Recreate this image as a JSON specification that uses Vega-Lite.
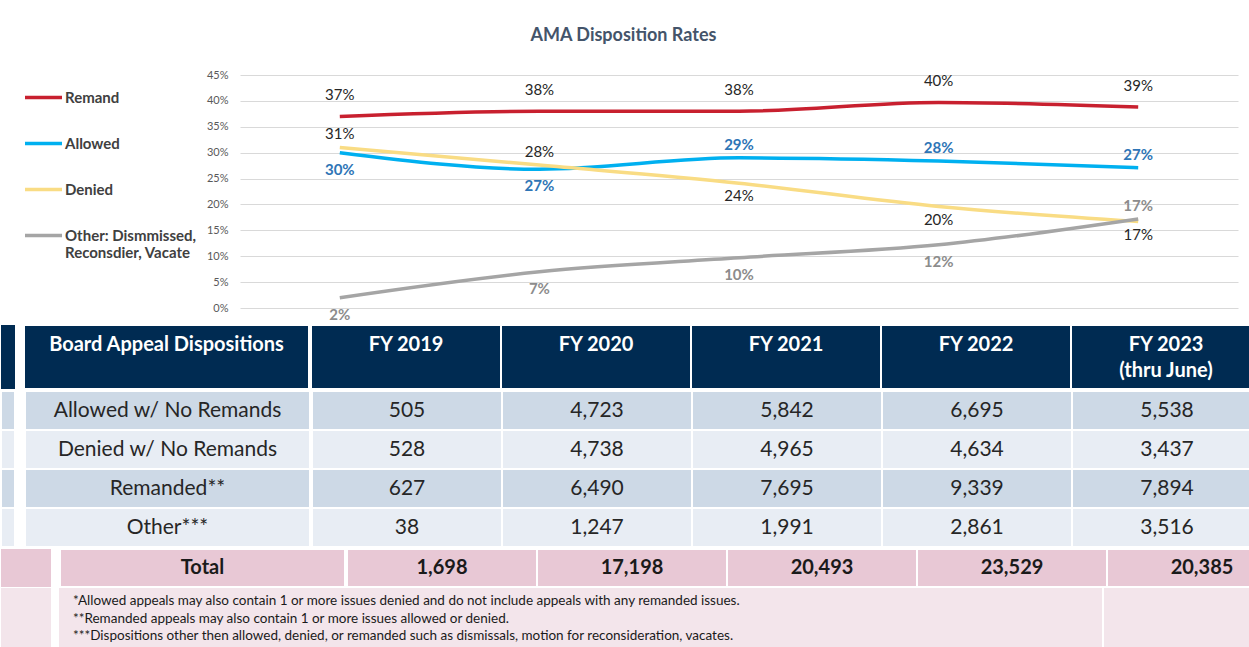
{
  "$schema": "https://vega.github.io/schema/vega-lite/v6.json",
  "background": "white",
  "padding": {"left": 0, "top": 27, "right": 0, "bottom": 0},
  "config": {
    "view": {"stroke": null},
    "font": "Lato",
    "axis": {"labelFont": "Lato"},
    "legend": {"labelFont": "Lato"},
    "title": {"font": "Lato"}
  },
  "resolve": {"scale": {"color": "independent"}, "legend": {"color": "independent"}},
  "datasets": {
    "rates": [
      {"year": "FY 2019", "series": "Remand", "value": 0.37, "lab": "above"},
      {"year": "FY 2020", "series": "Remand", "value": 0.38, "lab": "above"},
      {"year": "FY 2021", "series": "Remand", "value": 0.38, "lab": "above"},
      {"year": "FY 2022", "series": "Remand", "value": 0.397, "lab": "above"},
      {"year": "FY 2023", "series": "Remand", "value": 0.388, "lab": "above"},
      {"year": "FY 2019", "series": "Allowed", "value": 0.30, "lab": "below"},
      {"year": "FY 2020", "series": "Allowed", "value": 0.268, "lab": "below"},
      {"year": "FY 2021", "series": "Allowed", "value": 0.29, "lab": "above"},
      {"year": "FY 2022", "series": "Allowed", "value": 0.284, "lab": "above"},
      {"year": "FY 2023", "series": "Allowed", "value": 0.271, "lab": "above"},
      {"year": "FY 2019", "series": "Denied", "value": 0.31, "lab": "above"},
      {"year": "FY 2020", "series": "Denied", "value": 0.276, "lab": "above"},
      {"year": "FY 2021", "series": "Denied", "value": 0.241, "lab": "below"},
      {"year": "FY 2022", "series": "Denied", "value": 0.196, "lab": "below"},
      {"year": "FY 2023", "series": "Denied", "value": 0.167, "lab": "below"},
      {"year": "FY 2019", "series": "Other: Dismmissed, Reconsdier, Vacate", "value": 0.02, "lab": "below"},
      {"year": "FY 2020", "series": "Other: Dismmissed, Reconsdier, Vacate", "value": 0.07, "lab": "below"},
      {"year": "FY 2021", "series": "Other: Dismmissed, Reconsdier, Vacate", "value": 0.097, "lab": "below"},
      {"year": "FY 2022", "series": "Other: Dismmissed, Reconsdier, Vacate", "value": 0.122, "lab": "below"},
      {"year": "FY 2023", "series": "Other: Dismmissed, Reconsdier, Vacate", "value": 0.172, "lab": "above"}
    ],
    "rows": [
      {"row": "Allowed w/ No Remands"},
      {"row": "Denied w/ No Remands"},
      {"row": "Remanded**"},
      {"row": "Other***"}
    ],
    "counts": [
      {"row": "Allowed w/ No Remands", "year": "FY 2019", "count": 505},
      {"row": "Allowed w/ No Remands", "year": "FY 2020", "count": 4723},
      {"row": "Allowed w/ No Remands", "year": "FY 2021", "count": 5842},
      {"row": "Allowed w/ No Remands", "year": "FY 2022", "count": 6695},
      {"row": "Allowed w/ No Remands", "year": "FY 2023", "count": 5538},
      {"row": "Denied w/ No Remands", "year": "FY 2019", "count": 528},
      {"row": "Denied w/ No Remands", "year": "FY 2020", "count": 4738},
      {"row": "Denied w/ No Remands", "year": "FY 2021", "count": 4965},
      {"row": "Denied w/ No Remands", "year": "FY 2022", "count": 4634},
      {"row": "Denied w/ No Remands", "year": "FY 2023", "count": 3437},
      {"row": "Remanded**", "year": "FY 2019", "count": 627},
      {"row": "Remanded**", "year": "FY 2020", "count": 6490},
      {"row": "Remanded**", "year": "FY 2021", "count": 7695},
      {"row": "Remanded**", "year": "FY 2022", "count": 9339},
      {"row": "Remanded**", "year": "FY 2023", "count": 7894},
      {"row": "Other***", "year": "FY 2019", "count": 38},
      {"row": "Other***", "year": "FY 2020", "count": 1247},
      {"row": "Other***", "year": "FY 2021", "count": 1991},
      {"row": "Other***", "year": "FY 2022", "count": 2861},
      {"row": "Other***", "year": "FY 2023", "count": 3516}
    ],
    "header": [
      {"col": "label", "h1": "Board Appeal Dispositions", "h2": ""},
      {"col": "FY 2019", "h1": "FY 2019", "h2": ""},
      {"col": "FY 2020", "h1": "FY 2020", "h2": ""},
      {"col": "FY 2021", "h1": "FY 2021", "h2": ""},
      {"col": "FY 2022", "h1": "FY 2022", "h2": ""},
      {"col": "FY 2023", "h1": "FY 2023", "h2": "(thru June)"}
    ],
    "totals": [
      {"year": "FY 2019", "total": 1698},
      {"year": "FY 2020", "total": 17198},
      {"year": "FY 2021", "total": 20493},
      {"year": "FY 2022", "total": 23529},
      {"year": "FY 2023", "total": 20385}
    ],
    "notes": [
      {"n": 1, "note": "*Allowed appeals may also contain 1 or more issues denied and do not include appeals with any remanded issues."},
      {"n": 2, "note": "**Remanded appeals may also contain 1 or more issues allowed or denied."},
      {"n": 3, "note": "***Dispositions other then allowed, denied, or remanded such as dismissals, motion for reconsideration, vacates."}
    ]
  },
  "spacing": 1,
  "vconcat": [
    {
      "spacing": 19,
      "resolve": {"scale": {"color": "independent"}, "legend": {"color": "independent"}},
      "hconcat": [
        {"width": 1, "height": 233, "data": {"values": []}, "mark": "rect"},
        {
          "width": 998,
          "height": 233,
          "title": {"text": "AMA Disposition Rates", "fontSize": 18, "fontWeight": "bold", "color": "#44546a", "anchor": "middle", "frame": "bounds", "offset": 24, "dx": -6},
          "data": {"name": "rates"},
          "encoding": {
            "x": {"field": "year", "type": "nominal", "sort": null, "scale": {"type": "point", "padding": 0.5}, "axis": null},
            "y": {
              "field": "value", "type": "quantitative",
              "scale": {"domain": [0, 0.45], "nice": false},
              "axis": {"values": [0, 0.05, 0.1, 0.15, 0.2, 0.25, 0.3, 0.35, 0.4, 0.45], "format": ".0%", "grid": true, "gridColor": "#d9d9d9", "domain": false, "ticks": false, "labelPadding": 12, "labelFontSize": 11, "labelColor": "#595959", "title": null, "minExtent": 38, "maxExtent": 38}
            }
          },
          "layer": [
            {
              "mark": {"type": "line", "strokeWidth": 3.5, "interpolate": "monotone"},
              "encoding": {
                "color": {
                  "field": "series", "type": "nominal", "sort": null,
                  "scale": {"domain": ["Remand", "Allowed", "Denied", "Other: Dismmissed, Reconsdier, Vacate"], "range": ["#c8202f", "#00b0f0", "#f9dc84", "#a5a5a5"]},
                  "legend": {
                    "orient": "left", "title": null, "symbolType": "stroke", "symbolSize": 1369, "symbolStrokeWidth": 3.5,
                    "labelFontSize": 15, "labelFontWeight": "bold", "labelColor": "#404040", "labelLimit": 400,
                    "rowPadding": 17, "labelOffset": 1, "padding": 2, "offset": 3,
                    "labelExpr": "datum.label == 'Other: Dismmissed, Reconsdier, Vacate' ? ['Other: Dismmissed,', 'Reconsdier, Vacate'] : datum.label"
                  }
                }
              }
            },
            {
              "transform": [{"filter": "datum.series == 'Remand'"}],
              "mark": {"type": "text", "dy": -21, "fontSize": 15, "color": "#262626"},
              "encoding": {"text": {"field": "value", "type": "quantitative", "format": ".0%"}}
            },
            {
              "transform": [{"filter": "datum.series == 'Denied' && datum.lab == 'above'"}],
              "mark": {"type": "text", "dy": -13, "fontSize": 15, "color": "#262626"},
              "encoding": {"text": {"field": "value", "type": "quantitative", "format": ".0%"}}
            },
            {
              "transform": [{"filter": "datum.series == 'Denied' && datum.lab == 'below'"}],
              "mark": {"type": "text", "dy": 13, "fontSize": 15, "color": "#262626"},
              "encoding": {"text": {"field": "value", "type": "quantitative", "format": ".0%"}}
            },
            {
              "transform": [{"filter": "(datum.series == 'Allowed' || datum.series == 'Other: Dismmissed, Reconsdier, Vacate') && datum.lab == 'above'"}],
              "mark": {"type": "text", "dy": -13, "fontSize": 15, "fontWeight": "bold"},
              "encoding": {
                "text": {"field": "value", "type": "quantitative", "format": ".0%"},
                "color": {"condition": {"test": "datum.series == 'Allowed'", "value": "#2e75b6"}, "value": "#8c8c8c"}
              }
            },
            {
              "transform": [{"filter": "(datum.series == 'Allowed' || datum.series == 'Other: Dismmissed, Reconsdier, Vacate') && datum.lab == 'below'"}],
              "mark": {"type": "text", "dy": 17, "fontSize": 15, "fontWeight": "bold"},
              "encoding": {
                "text": {"field": "value", "type": "quantitative", "format": ".0%"},
                "color": {"condition": {"test": "datum.series == 'Allowed'", "value": "#2e75b6"}, "value": "#8c8c8c"}
              }
            }
          ]
        }
      ]
    },
    {
      "spacing": 0,
      "vconcat": [
        {
          "spacing": 8,
          "hconcat": [
            {"width": 14, "height": 64, "view": {"fill": "#002b52"}, "data": {"values": []}, "mark": "rect"},
            {
              "spacing": 0,
              "hconcat": [
                {
                  "width": 285, "height": 64,
                  "data": {"name": "header"},
                  "transform": [{"filter": "datum.col == 'label'"}],
                  "layer": [
                    {"mark": {"type": "rect", "color": "#002b52", "stroke": "white", "strokeWidth": 2}},
                    {"mark": {"type": "text", "color": "white", "fontSize": 20, "fontWeight": "bold", "dy": -12}, "encoding": {"text": {"field": "h1"}}}
                  ]
                },
                {
                  "width": 950, "height": 64,
                  "data": {"name": "header"},
                  "transform": [{"filter": "datum.col != 'label'"}],
                  "encoding": {"x": {"field": "col", "type": "nominal", "sort": null, "axis": null, "scale": {"paddingInner": 0, "paddingOuter": 0}}},
                  "layer": [
                    {"mark": {"type": "rect", "color": "#002b52", "stroke": "white", "strokeWidth": 2}},
                    {"mark": {"type": "text", "color": "white", "fontSize": 20, "fontWeight": "bold", "dy": -12}, "encoding": {"text": {"field": "h1"}}},
                    {"mark": {"type": "text", "color": "white", "fontSize": 20, "fontWeight": "bold", "dy": 14}, "encoding": {"text": {"field": "h2"}}}
                  ]
                }
              ]
            }
          ]
        },
        {
          "spacing": 8,
          "hconcat": [
            {
              "width": 14, "height": 156,
              "data": {"name": "rows"},
              "mark": {"type": "rect", "stroke": "white", "strokeWidth": 2},
              "encoding": {
                "y": {"field": "row", "type": "nominal", "sort": null, "axis": null, "scale": {"paddingInner": 0, "paddingOuter": 0}},
                "color": {"condition": {"test": "datum.row == 'Allowed w/ No Remands' || datum.row == 'Remanded**'", "value": "#cdd9e6"}, "value": "#e8edf4"}
              }
            },
            {
              "spacing": 0,
              "hconcat": [
                {
                  "width": 285, "height": 156,
                  "data": {"name": "rows"},
                  "encoding": {"y": {"field": "row", "type": "nominal", "sort": null, "axis": null, "scale": {"paddingInner": 0, "paddingOuter": 0}}},
                  "layer": [
                    {
                      "mark": {"type": "rect", "stroke": "white", "strokeWidth": 2},
                      "encoding": {"color": {"condition": {"test": "datum.row == 'Allowed w/ No Remands' || datum.row == 'Remanded**'", "value": "#cdd9e6"}, "value": "#e8edf4"}}
                    },
                    {"mark": {"type": "text", "fontSize": 21, "color": "#262626"}, "encoding": {"text": {"field": "row"}}}
                  ]
                },
                {
                  "width": 950, "height": 156,
                  "data": {"name": "counts"},
                  "encoding": {
                    "x": {"field": "year", "type": "nominal", "sort": null, "axis": null, "scale": {"paddingInner": 0, "paddingOuter": 0}},
                    "y": {"field": "row", "type": "nominal", "sort": null, "axis": null, "scale": {"paddingInner": 0, "paddingOuter": 0}}
                  },
                  "layer": [
                    {
                      "mark": {"type": "rect", "stroke": "white", "strokeWidth": 2},
                      "encoding": {"color": {"condition": {"test": "datum.row == 'Allowed w/ No Remands' || datum.row == 'Remanded**'", "value": "#cdd9e6"}, "value": "#e8edf4"}}
                    },
                    {"mark": {"type": "text", "fontSize": 21, "color": "#262626"}, "encoding": {"text": {"field": "count", "type": "quantitative", "format": ","}}}
                  ]
                }
              ]
            }
          ]
        },
        {
          "spacing": 8,
          "hconcat": [
            {"width": 50, "height": 38, "view": {"fill": "#e8c8d5"}, "data": {"values": []}, "mark": "rect"},
            {
              "spacing": 0,
              "hconcat": [
                {
                  "width": 285, "height": 38,
                  "data": {"values": [{"row": "Total"}]},
                  "layer": [
                    {"mark": {"type": "rect", "color": "#e8c8d5", "stroke": "white", "strokeWidth": 2}},
                    {"mark": {"type": "text", "fontSize": 20, "fontWeight": "bold", "color": "#1a1a1a"}, "encoding": {"text": {"field": "row"}}}
                  ]
                },
                {
                  "width": 950, "height": 38,
                  "data": {"name": "totals"},
                  "encoding": {"x": {"field": "year", "type": "nominal", "sort": null, "axis": null, "scale": {"paddingInner": 0, "paddingOuter": 0}}},
                  "layer": [
                    {"mark": {"type": "rect", "color": "#e8c8d5", "stroke": "white", "strokeWidth": 2}},
                    {"mark": {"type": "text", "fontSize": 20, "fontWeight": "bold", "color": "#1a1a1a"}, "encoding": {"text": {"field": "total", "type": "quantitative", "format": ","}}}
                  ]
                }
              ]
            }
          ]
        },
        {
          "spacing": 8,
          "hconcat": [
            {"width": 50, "height": 61, "view": {"fill": "#f3e5eb"}, "data": {"values": []}, "mark": "rect"},
            {
              "spacing": 2,
              "hconcat": [
                {
                  "width": 1043, "height": 61,
                  "view": {"fill": "#f3e5eb"},
                  "data": {"name": "notes"},
                  "mark": {"type": "text", "align": "left", "fontSize": 13.5, "color": "#1a1a1a", "dx": 14},
                  "encoding": {
                    "x": {"value": 0},
                    "y": {"field": "n", "type": "ordinal", "axis": null, "scale": {"type": "point", "padding": 0.7}},
                    "text": {"field": "note"}
                  }
                },
                {"width": 200, "height": 61, "view": {"fill": "#f3e5eb"}, "data": {"values": []}, "mark": "rect"}
              ]
            }
          ]
        }
      ]
    }
  ]
}
